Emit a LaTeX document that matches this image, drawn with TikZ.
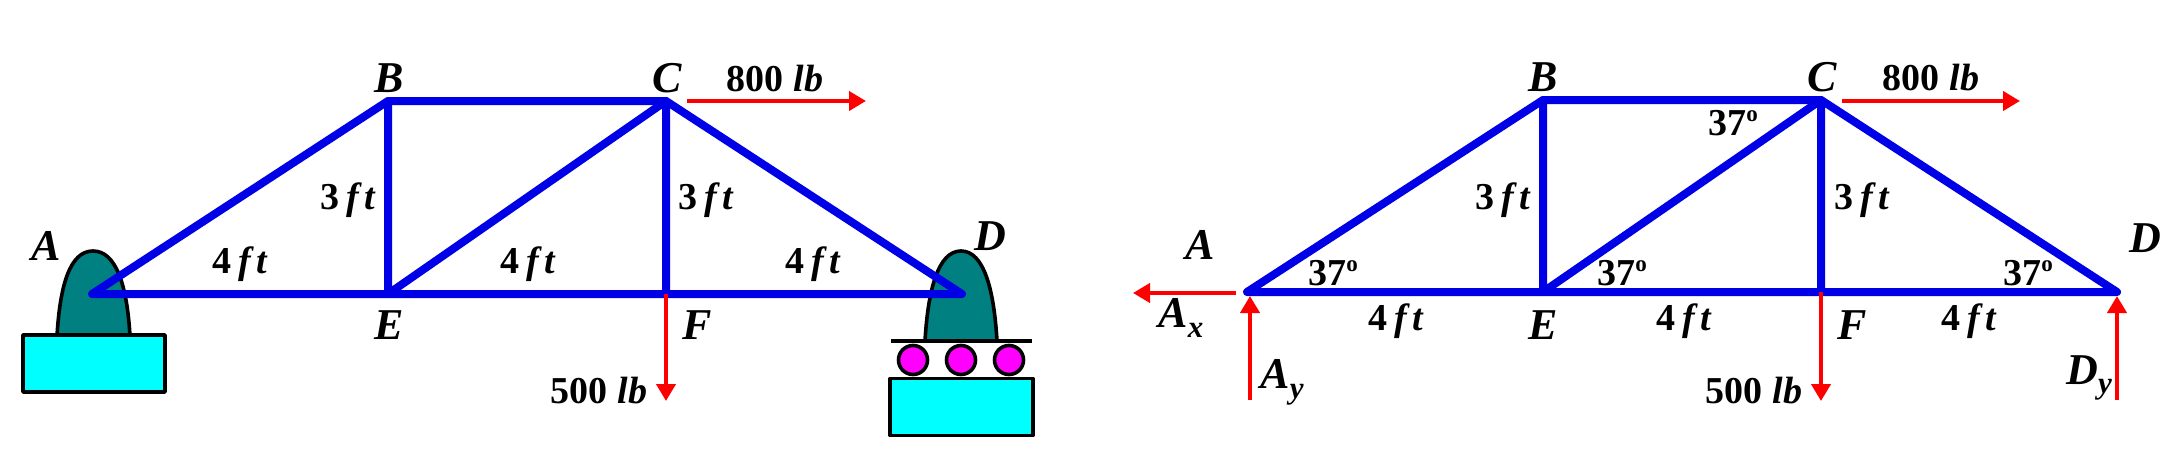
\documentclass[tikz,border=0pt]{standalone}
\usepackage{fontspec}
\setmainfont{Liberation Serif}
\usetikzlibrary{arrows.meta}
\definecolor{trussblue}{RGB}{0,0,230}
\definecolor{bumpteal}{RGB}{0,128,128}
\definecolor{basecyan}{RGB}{0,255,255}
\definecolor{rollermagenta}{RGB}{255,0,255}
\definecolor{forcered}{RGB}{255,0,0}
\newcommand{\ftlab}[1]{\textbf{#1\kern7pt\textit{f\kern5pt t}}}
\newcommand{\lblab}[1]{\textbf{#1 \textit{lb}}}
\newcommand{\deglab}{\textbf{37\raisebox{0.36em}{\fontsize{23}{23}\selectfont o}}}
\newcommand{\subl}[1]{\raisebox{-0.22em}{\fontsize{31}{31}\selectfont #1}}
\tikzset{
  x=1pt,y=-1pt,
  letter/.style={inner sep=0pt,font=\fontsize{44}{44}\selectfont\bfseries\itshape},
  dim/.style={inner sep=0pt,font=\fontsize{38}{38}\selectfont},
  member/.style={draw=trussblue,line width=8pt,line cap=round,line join=round},
  force/.style={draw=forcered,line width=4pt,-{Triangle[length=17pt,width=19pt]}},
  outline/.style={draw=black,line width=3.6pt,line join=round},
  base/.style={outline,fill=basecyan},
  bump/.style={outline,fill=bumpteal},
  roller/.style={outline,fill=rollermagenta,circle,inner sep=0pt,minimum size=29pt}
}
\begin{document}
\begin{tikzpicture}
\useasboundingbox (0,0) rectangle (2180,458);
% ---------- left supports
\draw[bump] (57,336) .. controls (60,285) and (70,251) .. (93,251) .. controls (116,251) and (127,285) .. (130,336) -- cycle;
\node[base,minimum width=142pt,minimum height=57pt,inner sep=0pt] (baseA) at (94,363.5) {};
\draw[bump] (925,341) .. controls (928,290) and (938,251) .. (961,251) .. controls (984,251) and (994,290) .. (997,341) -- cycle;
\coordinate (plateL) at (891,341);
\coordinate (plateR) at (1032,341);
\draw[outline] (plateL) -- (plateR);
\node[roller] (r1) at (913,360) {};
\node[roller] (r2) at (961,360) {};
\node[roller] (r3) at (1009,360) {};
\node[base,minimum width=143pt,minimum height=57pt,inner sep=0pt] (baseD) at (961.5,407) {};
% ---------- left truss
\coordinate (A) at (92,294);
\coordinate (E) at (388,294);
\coordinate (F) at (666,294);
\coordinate (D) at (962,294);
\coordinate (B) at (388,101);
\coordinate (C) at (666,101);
\draw[member] (A) -- (B) -- (C) -- (D) -- (F) -- (E) -- (A);
\draw[member] (B) -- (E) -- (C) -- (F);
\coordinate (c800s) at (687,101);
\coordinate (c800e) at (866,101);
\draw[force] (c800s) -- (c800e);
\coordinate (f500e) at (666,401);
\draw[force] (F) -- (f500e);
\node[letter] (lA) at (46,246) {A};
\node[letter] (lB) at (389,78) {B};
\node[letter] (lC) at (667,78) {C};
\node[letter] (lD) at (990,236) {D};
\node[letter] (lE) at (389,325) {E};
\node[letter] (lF) at (697,325) {F};
\node[dim] (l800) at (775,79) {\lblab{800}};
\node[dim] (l500) at (599,391) {\lblab{500}};
\node[dim] (l3a) at (348,200) {\ftlab{3}};
\node[dim] (l3b) at (706,200) {\ftlab{3}};
\node[dim] (l4a) at (240,264) {\ftlab{4}};
\node[dim] (l4b) at (528,264) {\ftlab{4}};
\node[dim] (l4c) at (813,264) {\ftlab{4}};
% ---------- right truss
\coordinate (A2) at (1247,292);
\coordinate (E2) at (1543,292);
\coordinate (F2) at (1821,292);
\coordinate (D2) at (2117,292);
\coordinate (B2) at (1543,100);
\coordinate (C2) at (1821,100);
\draw[member] (A2) -- (B2) -- (C2) -- (D2) -- (F2) -- (E2) -- (A2);
\draw[member] (B2) -- (E2) -- (C2) -- (F2);
\coordinate (c800s2) at (1842,101);
\coordinate (c800e2) at (2020,101);
\draw[force] (c800s2) -- (c800e2);
\coordinate (f500e2) at (1821,401);
\draw[force] (F2) -- (f500e2);
\coordinate (axs) at (1236,293);
\coordinate (axe) at (1133,293);
\draw[force] (axs) -- (axe);
\coordinate (ays) at (1250,400);
\coordinate (aye) at (1250,296);
\draw[force] (ays) -- (aye);
\coordinate (dys) at (2117,400);
\coordinate (dye) at (2117,296);
\draw[force] (dys) -- (dye);
\node[letter] (mA) at (1200,245) {A};
\node[letter] (mB) at (1543,77) {B};
\node[letter] (mC) at (1822,77) {C};
\node[letter] (mD) at (2145,238) {D};
\node[letter] (mE) at (1543,325) {E};
\node[letter] (mF) at (1852,325) {F};
\node[letter] (mAx) at (1181,318) {A\subl{x}};
\node[letter] (mAy) at (1282,382) {A\subl{y}};
\node[letter] (mDy) at (2089,378) {D\subl{y}};
\node[dim] (m800) at (1931,78) {\lblab{800}};
\node[dim] (m500) at (1754,391) {\lblab{500}};
\node[dim] (m3a) at (1503,200) {\ftlab{3}};
\node[dim] (m3b) at (1862,200) {\ftlab{3}};
\node[dim] (m4a) at (1396,321) {\ftlab{4}};
\node[dim] (m4b) at (1684,321) {\ftlab{4}};
\node[dim] (m4c) at (1969,321) {\ftlab{4}};
\node[dim] (d1) at (1733,123) {\deglab};
\node[dim] (d2) at (1333,273) {\deglab};
\node[dim] (d3) at (1622,273) {\deglab};
\node[dim] (d4) at (2028,273) {\deglab};
\end{tikzpicture}
\end{document}
